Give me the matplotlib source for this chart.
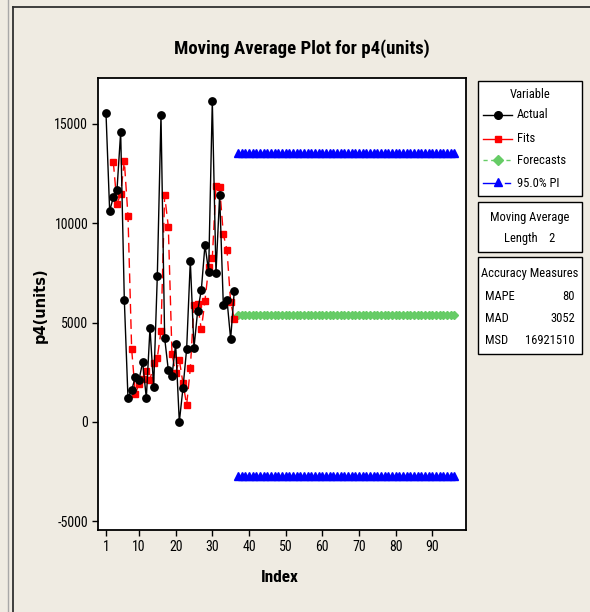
import matplotlib
matplotlib.use('Agg')
import matplotlib.pyplot as plt
from matplotlib.lines import Line2D
from matplotlib.patches import Rectangle
from matplotlib import font_manager
from matplotlib.font_manager import FontProperties

# ---------------- data ----------------
actual_index = list(range(1, 37))
actual = [15530, 10600, 11300, 11660, 14570, 6130, 1200, 1600, 2260, 2110,
          3015, 1200, 4720, 1760, 7340, 15430, 4220, 2610, 2310, 3920,
          0, 1710, 3670, 8090, 3720, 5580, 6630, 8900, 7560, 16130,
          7490, 11400, 5900, 6150, 4170, 6600]

fits_index = list(range(3, 37))
fits = [13065, 10950, 11480, 13115, 10350, 3665, 1400, 1930, 2185, 2560,
        2110, 2960, 3240, 4550, 11385, 9825, 3415, 2460, 3115, 1960,
        855, 2690, 5880, 5905, 4650, 6105, 7765, 8230, 11845, 11810,
        9445, 8650, 6025, 5160]

forecast_index = list(range(37, 97))
forecast_value = 5400
pi_upper_value = 13500
pi_lower_value = -2700
forecasts = [forecast_value] * len(forecast_index)
pi_upper = [pi_upper_value] * len(forecast_index)
pi_lower = [pi_lower_value] * len(forecast_index)

x_ticks = [1, 10, 20, 30, 40, 50, 60, 70, 80, 90]
y_ticks = [-5000, 0, 5000, 10000, 15000]

legend_labels = ["Actual", "Fits", "Forecasts", "95.0% PI"]
ma_length = 2
acc_names = ["MAPE", "MAD", "MSD"]
acc_values = ["80", "3052", "16921510"]

# ---------------- fonts ----------------
def _is_bold(w):
    if isinstance(w, str):
        return 'bold' in w.lower() or w.lower() in ('heavy', 'black')
    return w >= 600


def _find_narrow(bold):
    prefs = ['Liberation Sans Narrow', 'Roboto Condensed', 'Open Sans Condensed',
             'Roboto', 'Open Sans', 'Noto Sans', 'DejaVu Sans']
    cands = []
    for f in font_manager.fontManager.ttflist:
        fn = f.fname.lower()
        cond = (str(f.stretch) in ('condensed', 'semi-condensed', 'extra-condensed')
                or 'Narrow' in f.name or 'Condensed' in f.name
                or 'condensed' in fn or 'narrow' in fn)
        if not cond:
            continue
        if _is_bold(f.weight) != bold:
            continue
        if str(f.style) != 'normal':
            continue
        if 'light' in fn or 'thin' in fn or 'medium' in fn or 'semibold' in fn \
                or 'extrabold' in fn or 'black' in fn:
            continue
        cands.append(f)
    if not cands:
        return None

    def rank(f):
        for i, p in enumerate(prefs):
            if f.name == p:
                return i
        return len(prefs)
    cands.sort(key=rank)
    return cands[0].fname


_nr = _find_narrow(False)
_nb = _find_narrow(True)


def NF(size, bold=False):
    path = _nb if bold else _nr
    if path:
        return FontProperties(fname=path, size=size)
    return FontProperties(family=['Liberation Sans', 'DejaVu Sans'],
                          weight='bold' if bold else 'normal', size=size)


def BF(size):
    return FontProperties(family=['DejaVu Sans'], weight='bold', size=size)


# ---------------- layout ----------------
W, H = 590, 612
BG = '#EFEBE2'

fig = plt.figure(figsize=(W / 100, H / 100), dpi=100, facecolor=BG)
renderer = fig.canvas.get_renderer()


def fitted(s, maker, target_w, max_size, base=10.0):
    t = fig.text(0, 0, s, fontproperties=maker(base))
    w = t.get_window_extent(renderer).width
    t.remove()
    return min(max_size, base * target_w / w)


def fx(x):
    return x / W


def fy(y):
    return 1 - y / H


TICK_FS = fitted('15000', lambda z: NF(z), 34, 11.5)
TITLE_FS = fitted('Moving Average Plot for p4(units)', lambda z: NF(z, True), 256, 14.5)
INDEX_FS = fitted('Index', lambda z: NF(z, True), 38, 13)
LEG_FS = fitted('Accuracy Measures', lambda z: NF(z), 96, 10.5)
YLAB_FS = 10.5

ax = fig.add_axes([fx(98), fy(530), fx(466) - fx(98), fy(78) - fy(530)])
ax.set_facecolor('white')

GREEN = '#66CC66'
BLUE = '#0000FF'
RED = '#FF0000'

ax.plot(forecast_index, pi_upper, color=BLUE, lw=1, ls='--',
        marker='^', ms=6, mec=BLUE, mfc=BLUE, zorder=3)
ax.plot(forecast_index, pi_lower, color=BLUE, lw=1, ls='--',
        marker='^', ms=6, mec=BLUE, mfc=BLUE, zorder=3)
ax.plot(forecast_index, forecasts, color=GREEN, lw=1, ls='--',
        marker='D', ms=4.5, mec=GREEN, mfc=GREEN, zorder=3)
ax.plot(fits_index, fits, color=RED, lw=1, ls=(0, (7, 4)),
        marker='s', ms=5, mec=RED, mfc=RED, zorder=4)
ax.plot(actual_index, actual, color='black', lw=1, ls='-',
        marker='o', ms=5.3, mec='black', mfc='black', zorder=5)

ax.set_xlim(-1.18, 99.2)
ax.set_ylim(-5430, 17290)
ax.set_xticks(x_ticks)
ax.set_yticks(y_ticks)
ax.set_xticklabels([str(t) for t in x_ticks], fontproperties=NF(TICK_FS))
ax.set_yticklabels([str(t) for t in y_ticks], fontproperties=NF(TICK_FS))
ax.tick_params(direction='out', length=4, width=1, color='black', pad=3,
               top=False, right=False)
for s in ax.spines.values():
    s.set_linewidth(1.3)
    s.set_color('black')

# ---------------- texts ----------------
fig.text(fx(302), fy(49), 'Moving Average Plot for p4(units)', ha='center', va='center',
         fontproperties=NF(TITLE_FS, bold=True))
fig.text(fx(40), fy(305), 'p4(units)', rotation=90, ha='center', va='center',
         fontproperties=BF(YLAB_FS))
fig.text(fx(280), fy(577), 'Index', ha='center', va='center',
         fontproperties=NF(INDEX_FS, bold=True))

# ---------------- window frame ----------------
fig.add_artist(Line2D([fx(8), fx(8)], [0, 1], transform=fig.transFigure,
                      color='#A8A8A8', lw=1))
fig.add_artist(Line2D([fx(13), fx(13)], [0, fy(7)], transform=fig.transFigure,
                      color='#303030', lw=1.3))
fig.add_artist(Line2D([fx(13), 1], [fy(7), fy(7)], transform=fig.transFigure,
                      color='#303030', lw=1.3))

# ---------------- legend boxes ----------------
def box(x0, y0, x1, y1):
    fig.add_artist(Rectangle((fx(x0), fy(y1)), fx(x1) - fx(x0), fy(y0) - fy(y1),
                             transform=fig.transFigure, facecolor='white',
                             edgecolor='black', lw=1))


box(478, 81, 582, 196)
box(478, 202, 582, 252)
box(478, 257, 582, 354)

fig.text(fx(530), fy(95), 'Variable', ha='center', va='center', fontproperties=NF(LEG_FS))

rows_y = [115, 139, 160, 183]
# Actual
fig.add_artist(Line2D([fx(483), fx(512)], [fy(115)] * 2, transform=fig.transFigure,
                      color='black', lw=1))
fig.add_artist(Line2D([fx(497.5)], [fy(115)], transform=fig.transFigure,
                      marker='o', ms=5.5, color='black', ls='none'))
# Fits
fig.add_artist(Line2D([fx(483), fx(512)], [fy(139)] * 2, transform=fig.transFigure,
                      color=RED, lw=1))
fig.add_artist(Line2D([fx(497.5)], [fy(139)], transform=fig.transFigure,
                      marker='s', ms=5, color=RED, ls='none'))
# Forecasts
fig.add_artist(Line2D([fx(483), fx(512)], [fy(160)] * 2, transform=fig.transFigure,
                      color=GREEN, lw=1, ls=(0, (3, 2.5))))
fig.add_artist(Line2D([fx(497.5)], [fy(160)], transform=fig.transFigure,
                      marker='D', ms=5, color=GREEN, ls='none'))
# PI
fig.add_artist(Line2D([fx(483), fx(497)], [fy(183)] * 2, transform=fig.transFigure,
                      color=BLUE, lw=1))
fig.add_artist(Line2D([fx(505), fx(510)], [fy(183)] * 2, transform=fig.transFigure,
                      color=BLUE, lw=1))
fig.add_artist(Line2D([fx(497.5)], [fy(182)], transform=fig.transFigure,
                      marker='^', ms=6, color=BLUE, ls='none'))
for lab, yy in zip(legend_labels, rows_y):
    fig.text(fx(517), fy(yy), lab, ha='left', va='center', fontproperties=NF(LEG_FS))

fig.text(fx(530), fy(217), 'Moving Average', ha='center', va='center', fontproperties=NF(LEG_FS))
fig.text(fx(530), fy(239), 'Length    %d' % ma_length, ha='center', va='center',
         fontproperties=NF(LEG_FS))

fig.text(fx(530), fy(273), 'Accuracy Measures', ha='center', va='center',
         fontproperties=NF(LEG_FS))
for name, val, yy in zip(acc_names, acc_values, [296, 318, 341]):
    fig.text(fx(485), fy(yy), name, ha='left', va='center', fontproperties=NF(LEG_FS))
    fig.text(fx(575), fy(yy), val, ha='right', va='center', fontproperties=NF(LEG_FS))

fig.savefig('out.png', dpi=100, facecolor=BG)
